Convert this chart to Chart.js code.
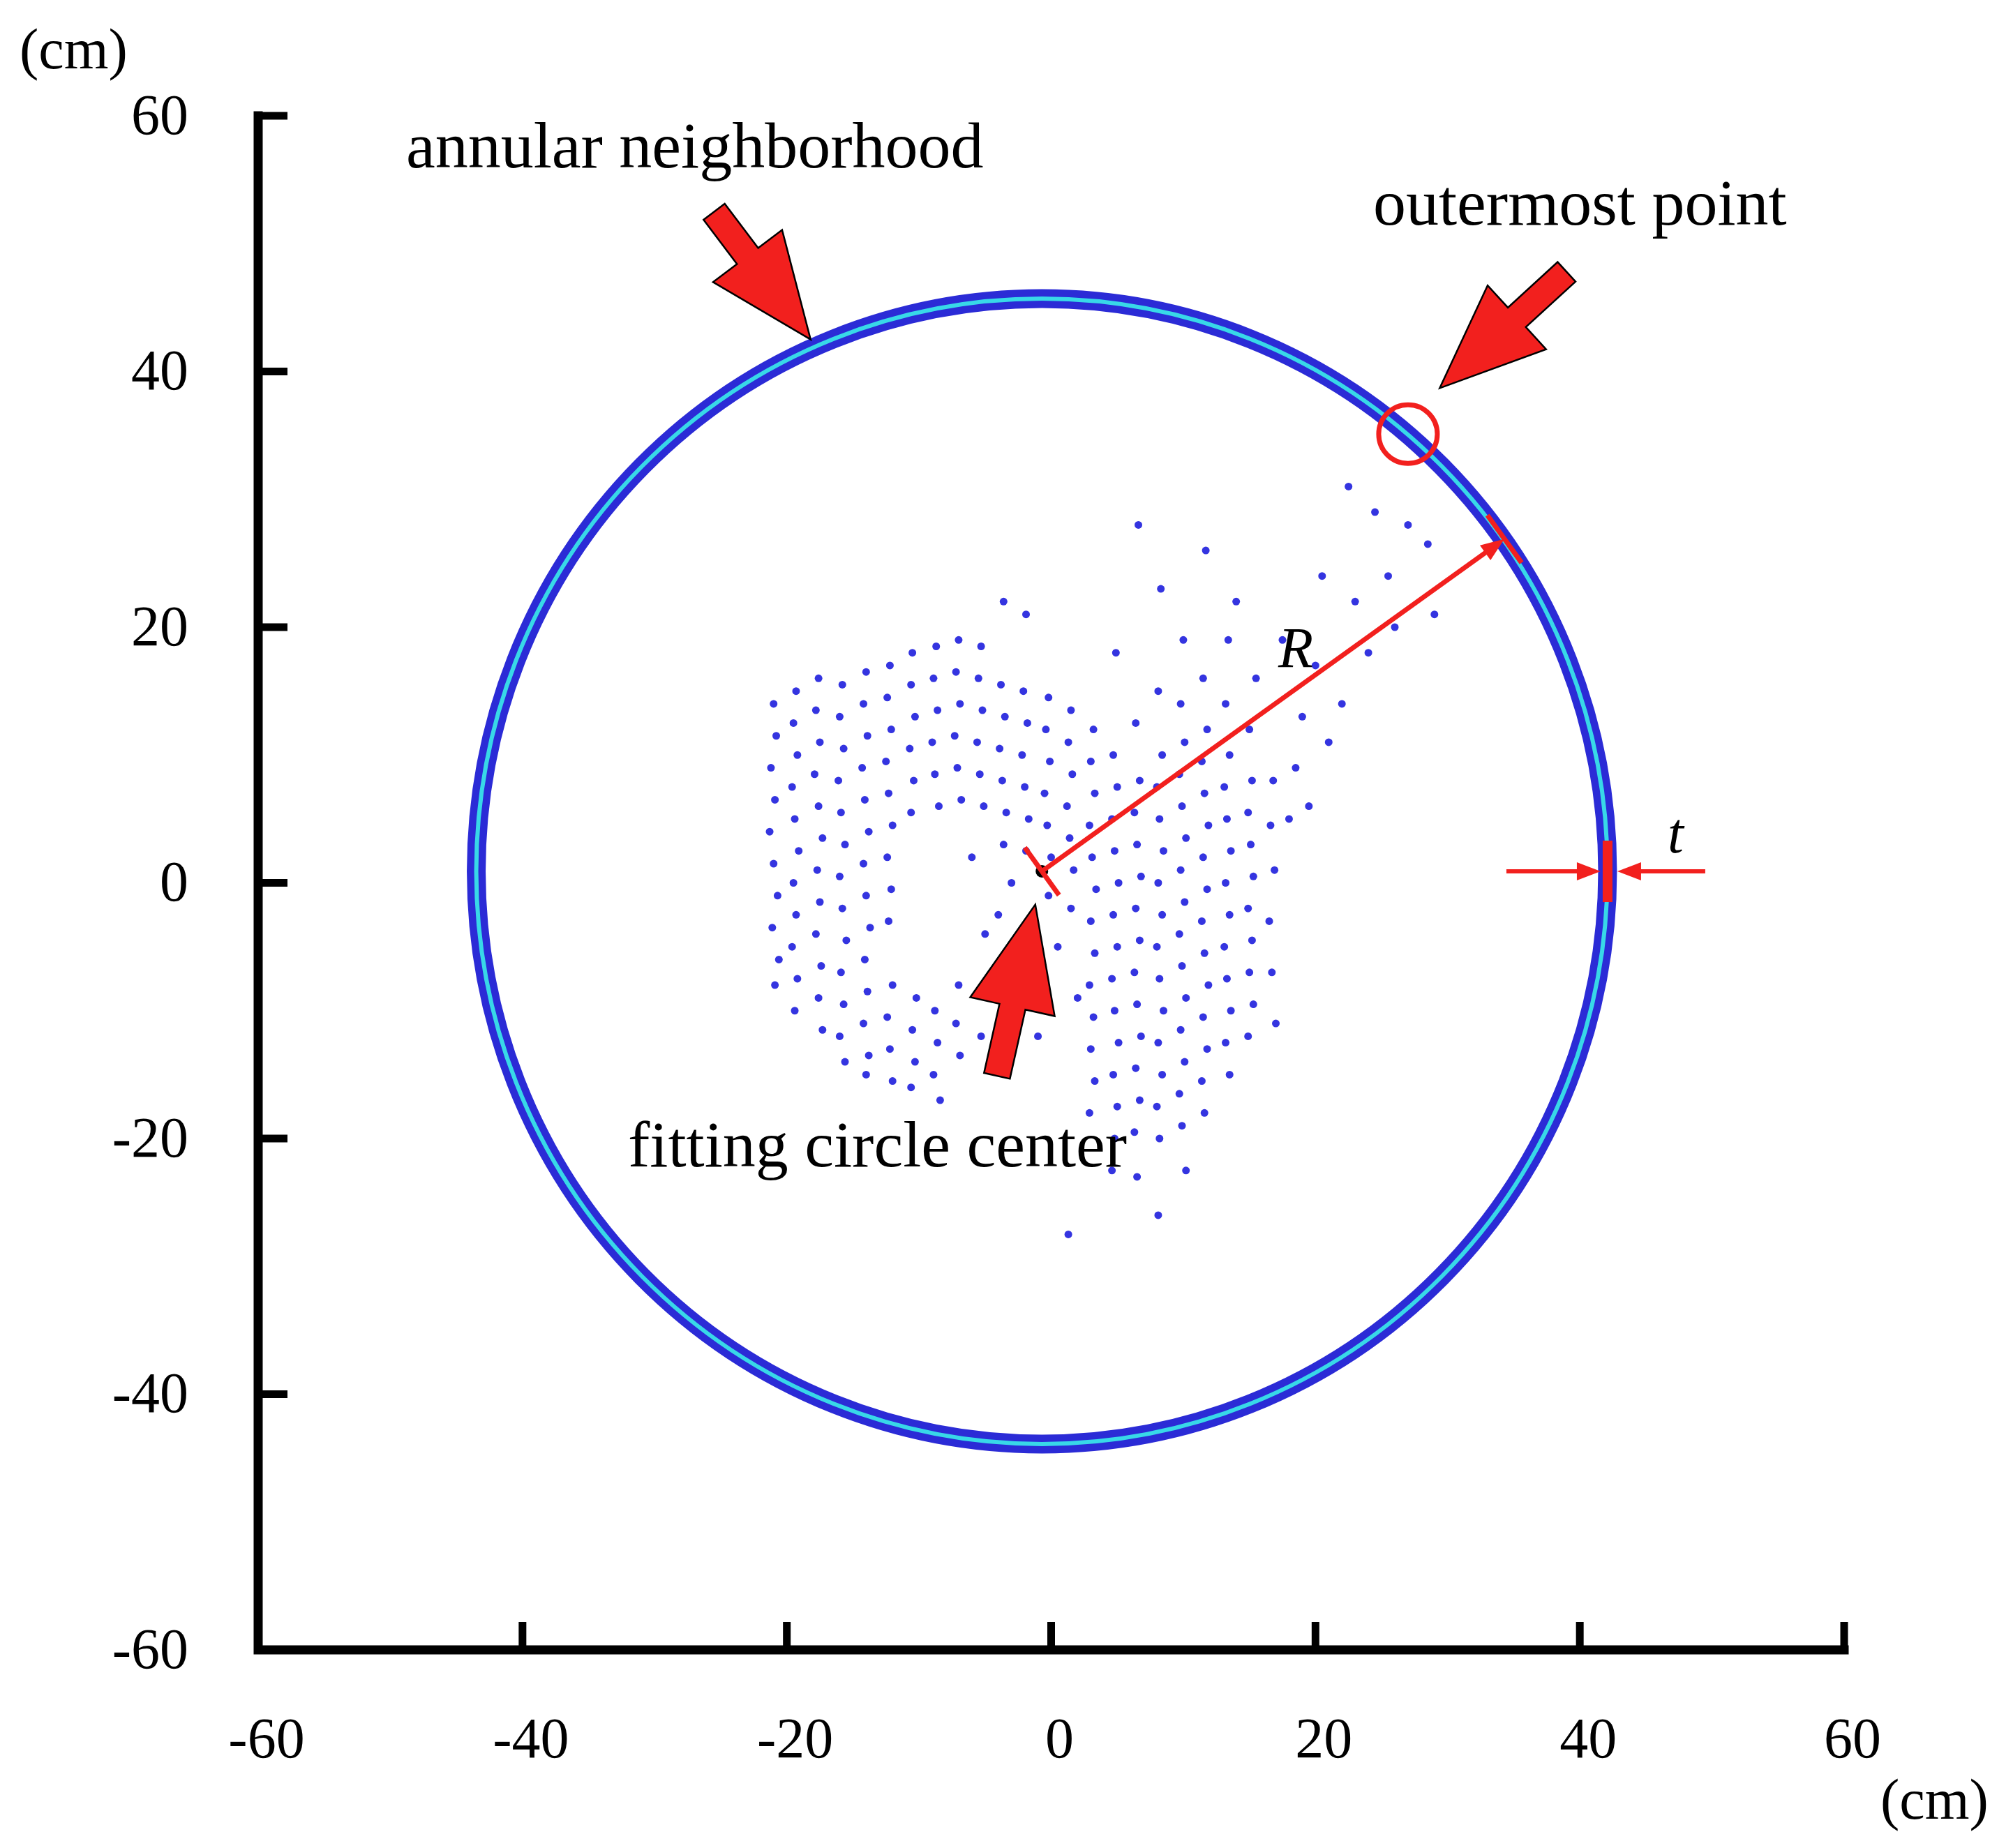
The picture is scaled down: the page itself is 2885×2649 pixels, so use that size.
<!DOCTYPE html>
<html>
<head>
<meta charset="utf-8">
<script src="https://cdn.jsdelivr.net/npm/chart.js@4"></script>
<style>
  body { margin: 0; background: #fff; }
  #wrap { width: 2885px; height: 2649px; }
</style>
</head>
<body>
<div id="wrap"><canvas id="myChart"></canvas></div>
<script>
var xTicks = [-60, -40, -20, 0, 20, 40, 60];
var yTicks = [-60, -40, -20, 0, 20, 40, 60];

// fitted circle (cm)
var circleCenter = [-0.7, 0.9];
var circleRadius = [42.8, 44.8];

// point cloud (cm)
var cloud = [
  [-21,14],[-20.8,11.5],[-21.2,9],[-20.9,6.5],[-21.3,4],[-21,1.5],[-20.7,-1],[-21.1,-3.5],[-20.6,-6],[-20.9,-8],
  [-19.3,15],[-19.5,12.5],[-19.2,10],[-19.6,7.5],[-19.4,5],[-19.1,2.5],[-19.5,0],[-19.3,-2.5],[-19.6,-5],[-19.2,-7.5],[-19.4,-10],
  [-17.6,16],[-17.8,13.5],[-17.5,11],[-17.9,8.5],[-17.6,6],[-17.3,3.5],[-17.7,1],[-17.5,-1.5],[-17.8,-4],[-17.4,-6.5],[-17.6,-9],[-17.3,-11.5],
  [-15.8,15.5],[-16,13],[-15.7,10.5],[-16.1,8],[-15.9,5.5],[-15.6,3],[-16,0.5],[-15.8,-2],[-15.5,-4.5],[-15.9,-7],[-15.7,-9.5],[-16,-12],[-15.6,-14],
  [-14,16.5],[-14.2,14],[-13.9,11.5],[-14.3,9],[-14.1,6.5],[-13.8,4],[-14.2,1.5],[-14,-1],[-13.7,-3.5],[-14.1,-6],[-13.9,-8.5],[-14.2,-11],[-13.8,-13.5],[-14,-15],
  [-12.2,17],[-12.4,14.5],[-12.1,12],[-12.5,9.5],[-12.3,7],[-12,4.5],[-12.4,2],[-12.1,-0.5],[-12.3,-3],[-12,-8],[-12.4,-10.5],[-12.2,-13],[-12,-15.5],
  [-10.5,18],[-10.6,15.5],[-10.3,13],[-10.7,10.5],[-10.4,8],[-10.6,5.5],[-10.2,-9],[-10.5,-11.5],[-10.3,-14],[-10.6,-16],
  [-8.7,18.5],[-8.9,16],[-8.6,13.5],[-9,11],[-8.8,8.5],[-8.5,6],[-8.8,-10],[-8.6,-12.5],[-8.9,-15],[-8.4,-17],
  [-7,19],[-7.2,16.5],[-6.9,14],[-7.3,11.5],[-7.1,9],[-6.8,6.5],[-7,-8],[-7.2,-11],[-6.9,-13.5],
  [-5.3,18.5],[-5.5,16],[-5.2,13.5],[-5.6,11],[-5.4,8.5],[-5.1,6],[-5.3,-12],
  [-3.6,22],[-3.8,15.5],[-3.5,13],[-3.9,10.5],[-3.7,8],[-3.4,5.5],[-3.6,3],
  [-1.9,21],[-2.1,15],[-1.8,12.5],[-2.2,10],[-2,7.5],[-1.7,5],[-1.9,2.5],
  [-0.2,14.5],[-0.4,12],[-0.1,9.5],[-0.5,7],[-0.3,4.5],[0,2],[-0.2,-1],
  [1.5,13.5],[1.3,11],[1.6,8.5],[1.2,6],[1.4,3.5],[1.7,1],[1.5,-2],[1.3,-27.5],
  [3.2,12],[3,9.5],[3.3,7],[2.9,4.5],[3.1,2],[3.4,-0.5],[3,-3],[3.3,-5.5],[2.9,-8],[3.2,-10.5],[3,-13],[3.3,-15.5],[2.9,-18],
  [4.9,18],[4.7,10],[5,7.5],[4.6,5],[4.8,2.5],[5.1,0],[4.7,-2.5],[5,-5],[4.6,-7.5],[4.8,-10],[5.1,-12.5],[4.7,-15],[5,-17.5],[4.8,-20],[4.6,-22.5],
  [6.6,28],[6.4,12.5],[6.7,8],[6.3,5.5],[6.5,3],[6.8,0.5],[6.4,-2],[6.7,-4.5],[6.3,-7],[6.5,-9.5],[6.8,-12],[6.4,-14.5],[6.7,-17],[6.3,-19.5],[6.5,-23],
  [8.3,23],[8.1,15],[8.4,10],[8,7.5],[8.2,5],[8.5,2.5],[8.1,0],[8.4,-2.5],[8,-5],[8.2,-7.5],[8.5,-10],[8.1,-12.5],[8.4,-15],[8,-17.5],[8.2,-20],[8.1,-26],
  [10,19],[9.8,14],[10.1,11],[9.7,8.5],[9.9,6],[10.2,3.5],[9.8,1],[10.1,-1.5],[9.7,-4],[9.9,-6.5],[10.2,-9],[9.8,-11.5],[10.1,-14],[9.7,-16.5],[9.9,-19],[10.2,-22.5],
  [11.7,26],[11.5,16],[11.8,12],[11.4,9.5],[11.6,7],[11.9,4.5],[11.5,2],[11.8,-0.5],[11.4,-3],[11.6,-5.5],[11.9,-8],[11.5,-10.5],[11.8,-13],[11.4,-15.5],[11.6,-18],
  [13.4,19],[13.2,14],[13.5,10],[13.1,7.5],[13.3,5],[13.6,2.5],[13.2,0],[13.5,-2.5],[13.1,-5],[13.3,-7.5],[13.6,-10],[13.2,-12.5],[13.5,-15],
  [15,12],[15.2,8],[14.9,5.5],[15.1,3],[15.3,0.5],[14.9,-2],[15.2,-4.5],[15,-7],[15.3,-9.5],[14.9,-12],
  [16.8,8],[16.6,4.5],[16.9,1],[16.5,-3],[16.7,-7],[17,-11],
  [18,5],[19,13],[20,17],[21,11],[22,14],[20.5,24],[23,22],[24,18],[22.5,31],[24.5,29],[25.5,24],[27,28],[28.5,26.5],[29,21],[26,20],
  [18.5,9],[17.5,19],[19.5,6],[15.5,16],[14,22],
  [-3,0],[-4,-2.5],[-2.5,-6],[-1.5,-8],[-5,-4],[-6,2],[0.5,-5],[2,-9],[-1,-12]
];

// annotation anchors (cm): [tailX, tailY, tipX, tipY]
var arrowAnnular = [-25.5, 52.5, -18.2, 42.5];
var arrowOuter = [39, 47.8, 29.4, 38.7];
var arrowCenter = [-4.1, -15.1, -1.2, -1.7];
var outerPoint = [27, 35.1];
var radiusEnd = [34.3, 26.9];

var SERIF = '"Liberation Serif", "DejaVu Serif", serif';

function blockArrow(ctx, x0, y0, x1, y1) {
  var ang = Math.atan2(y1 - y0, x1 - x0);
  var len = Math.hypot(x1 - x0, y1 - y0);
  var hl = 150, hw = 62, sw = 19;
  ctx.save();
  ctx.translate(x0, y0);
  ctx.rotate(ang);
  ctx.beginPath();
  ctx.moveTo(0, -sw);
  ctx.lineTo(len - hl, -sw);
  ctx.lineTo(len - hl, -hw);
  ctx.lineTo(len, 0);
  ctx.lineTo(len - hl, hw);
  ctx.lineTo(len - hl, sw);
  ctx.lineTo(0, sw);
  ctx.closePath();
  ctx.fillStyle = '#f2201e';
  ctx.fill();
  ctx.lineWidth = 2.5;
  ctx.strokeStyle = '#000';
  ctx.stroke();
  ctx.restore();
}

function lineArrow(ctx, x0, y0, x1, y1, w) {
  var ang = Math.atan2(y1 - y0, x1 - x0);
  ctx.strokeStyle = '#f2201e';
  ctx.fillStyle = '#f2201e';
  ctx.lineWidth = w;
  ctx.beginPath();
  ctx.moveTo(x0, y0);
  ctx.lineTo(x1 - 20 * Math.cos(ang), y1 - 20 * Math.sin(ang));
  ctx.stroke();
  ctx.save();
  ctx.translate(x1, y1);
  ctx.rotate(ang);
  ctx.beginPath();
  ctx.moveTo(0, 0);
  ctx.lineTo(-34, -13);
  ctx.lineTo(-34, 13);
  ctx.closePath();
  ctx.fill();
  ctx.restore();
}

var circlePlugin = {
  id: 'circle',
  beforeDatasetsDraw: function(chart) {
    var ctx = chart.ctx, sx = chart.scales.x, sy = chart.scales.y;
    var cx = sx.getPixelForValue(circleCenter[0]);
    var cy = sy.getPixelForValue(circleCenter[1]);
    var rx = sx.getPixelForValue(circleCenter[0] + circleRadius[0]) - cx;
    var ry = cy - sy.getPixelForValue(circleCenter[1] + circleRadius[1]);
    ctx.save();
    ctx.beginPath();
    ctx.ellipse(cx, cy, rx, ry, 0, 0, Math.PI * 2);
    ctx.strokeStyle = '#2b2bd6';
    ctx.lineWidth = 27;
    ctx.stroke();
    ctx.strokeStyle = '#38d8e8';
    ctx.lineWidth = 6;
    ctx.stroke();
    ctx.restore();
  }
};

var overlayPlugin = {
  id: 'overlay',
  afterDraw: function(chart) {
    var ctx = chart.ctx, sx = chart.scales.x, sy = chart.scales.y, a = chart.chartArea;
    var px = function(v) { return sx.getPixelForValue(v); };
    var py = function(v) { return sy.getPixelForValue(v); };
    ctx.save();

    // axes
    ctx.strokeStyle = '#000';
    ctx.lineWidth = 13;
    ctx.lineCap = 'square';
    ctx.beginPath();
    ctx.moveTo(a.left, a.top);
    ctx.lineTo(a.left, a.bottom);
    ctx.lineTo(a.right, a.bottom);
    ctx.stroke();
    ctx.lineCap = 'butt';
    ctx.lineWidth = 11;
    ctx.fillStyle = '#000';
    ctx.font = '82px ' + SERIF;
    yTicks.forEach(function(t) {
      var y = py(t);
      ctx.beginPath(); ctx.moveTo(a.left, y); ctx.lineTo(a.left + 42, y); ctx.stroke();
      ctx.textAlign = 'right'; ctx.textBaseline = 'middle';
      ctx.fillText(String(t), a.left - 100, y + 4);
    });
    xTicks.forEach(function(t) {
      var x = px(t);
      ctx.beginPath(); ctx.moveTo(x, a.bottom); ctx.lineTo(x, a.bottom - 40); ctx.stroke();
      ctx.textAlign = 'center'; ctx.textBaseline = 'middle';
      ctx.fillText(String(t), x + 12, a.bottom + 132);
    });
    ctx.textAlign = 'left';
    ctx.fillText('(cm)', 28, 76);
    ctx.fillText('(cm)', 2695, 2585);

    // circle center dot
    var cx = px(circleCenter[0]), cy = py(circleCenter[1]);
    ctx.beginPath(); ctx.arc(cx, cy, 9, 0, Math.PI * 2); ctx.fill();

    // radius R
    var ex = px(radiusEnd[0]), ey = py(radiusEnd[1]);
    lineArrow(ctx, cx, cy, ex, ey, 7);
    var ang = Math.atan2(ey - cy, ex - cx), nx = -Math.sin(ang), ny = Math.cos(ang);
    ctx.lineWidth = 7;
    [[cx, cy], [ex, ey]].forEach(function(p) {
      ctx.beginPath();
      ctx.moveTo(p[0] - nx * 42, p[1] - ny * 42);
      ctx.lineTo(p[0] + nx * 42, p[1] + ny * 42);
      ctx.stroke();
    });

    // thickness t
    var rx = px(circleCenter[0] + circleRadius[0]);
    ctx.lineWidth = 14;
    ctx.beginPath(); ctx.moveTo(rx, cy - 44); ctx.lineTo(rx, cy + 44); ctx.stroke();
    lineArrow(ctx, rx - 145, cy, rx - 10, cy, 6);
    lineArrow(ctx, rx + 140, cy, rx + 14, cy, 6);

    // outermost point marker
    ctx.strokeStyle = '#f2201e';
    ctx.lineWidth = 7;
    ctx.beginPath(); ctx.arc(px(outerPoint[0]), py(outerPoint[1]), 42, 0, Math.PI * 2); ctx.stroke();

    // block arrows
    [arrowAnnular, arrowOuter, arrowCenter].forEach(function(r) {
      blockArrow(ctx, px(r[0]), py(r[1]), px(r[2]), py(r[3]));
    });

    // labels
    ctx.fillStyle = '#000';
    ctx.font = '94px ' + SERIF;
    ctx.textAlign = 'left'; ctx.textBaseline = 'alphabetic';
    ctx.fillText('annular neighborhood', 582, 240);
    ctx.fillText('outermost point', 1968, 322);
    ctx.fillText('fitting circle center', 900, 1672);
    ctx.font = 'italic 82px ' + SERIF;
    ctx.fillText('R', 1832, 956);
    ctx.fillText('t', 2390, 1222);
    ctx.restore();
  }
};

new Chart(document.getElementById('myChart'), {
  type: 'scatter',
  data: {
    datasets: [{
      data: cloud.map(function(p) { return { x: p[0], y: p[1] }; }),
      backgroundColor: '#3434e0',
      borderWidth: 0,
      pointRadius: 5.5
    }]
  },
  options: {
    responsive: true,
    maintainAspectRatio: false,
    devicePixelRatio: 1,
    animation: false,
    layout: { padding: { left: 370, right: 242, top: 166, bottom: 284 } },
    plugins: { legend: { display: false }, tooltip: { enabled: false } },
    scales: {
      x: { type: 'linear', min: -60, max: 60, display: false },
      y: { type: 'linear', min: -60, max: 60, display: false }
    }
  },
  plugins: [circlePlugin, overlayPlugin]
});
</script>
</body>
</html>
